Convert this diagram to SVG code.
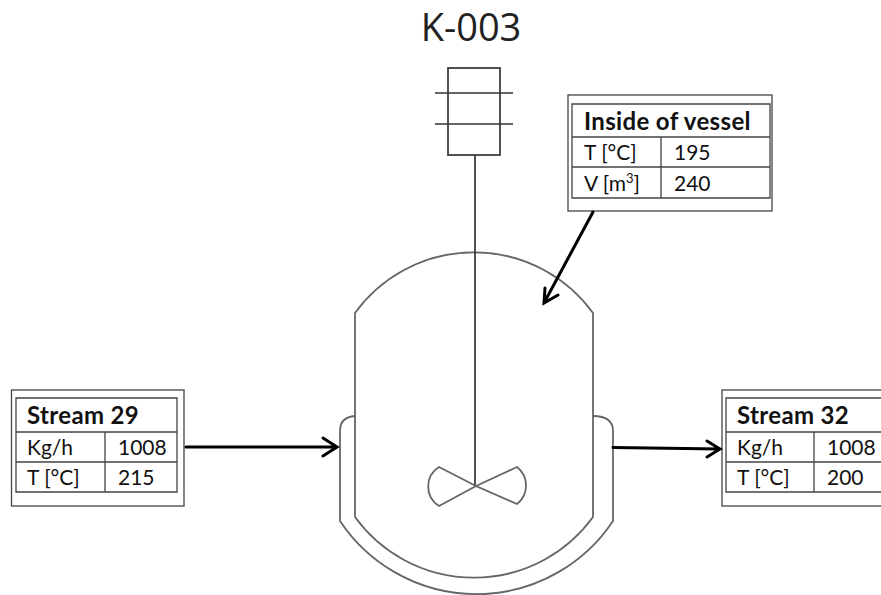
<svg xmlns="http://www.w3.org/2000/svg" width="881" height="595" viewBox="0 0 881 595">
<style>
.v{fill:none;stroke:#666;stroke-width:1.8}
.m{fill:none;stroke:#333;stroke-width:1.7}
.box{fill:#fff;stroke:#444;stroke-width:1.3}
.g{fill:none;stroke:#444;stroke-width:1.3}
.a{fill:none;stroke:#000;stroke-width:3;stroke-linecap:round;stroke-linejoin:miter}
text{font-family:"Lato","Open Sans","Liberation Sans",sans-serif;fill:#111;font-size:21px}
.b{font-weight:700;font-size:24px;letter-spacing:.35px}
.t{font-family:"Open Sans","Liberation Sans",sans-serif;font-size:38px;fill:#222}
</style>
<rect width="881" height="595" fill="#fff"/>
<g id="title"><text class="t" x="471" y="41" text-anchor="middle">K-003</text></g>
<g id="vessel">
<path class="v" d="M355 517V313A147 147 0 0 1 593 313V517A147 147 0 0 1 355 517Z"/>
<path class="v" d="M355 416Q340 417 340 431V521A164 164 0 0 0 613 521V431Q613 416 593 416"/>
</g>
<g id="agitator">
<rect class="m" x="448" y="68" width="52" height="87"/>
<path class="m" d="M435 93H513M435 124H513M475 155V486"/>
<path class="v" d="M476 486L439 467A23 23 0 0 0 439 506ZM476 486L517 467A23.500 23.500 0 0 1 517 504Z"/>
</g>
<g id="inside-of-vessel">
<rect class="box" x="568" y="95" width="204" height="116"/>
<path class="g" d="M572 104H770V198H572ZM572 137H770M572 167H770M661 137V198"/>
<text class="b" x="584" y="130">Inside of vessel</text>
<text x="584" y="160">T [°C]</text><text x="674" y="160">195</text>
<text x="584" y="191">V [m<tspan font-size="13" dy="-8">3</tspan><tspan dy="8">]</tspan></text><text x="674" y="191">240</text>
</g>
<g id="stream-29">
<rect class="box" x="11.5" y="390" width="172.500" height="116"/>
<path class="g" d="M16 398H177V492H16ZM16 432H177M16 462H177M105 432V492"/>
<text class="b" x="27" y="424">Stream 29</text>
<text x="27" y="455">Kg/h</text><text x="118" y="455">1008</text>
<text x="27" y="485">T [°C]</text><text x="118" y="485">215</text>
</g>
<g id="stream-32">
<rect class="box" x="722" y="390" width="170" height="116"/>
<path class="g" d="M726 398H890V492H726ZM726 432H890M726 462H890M814 432V492"/>
<text class="b" x="737" y="424">Stream 32</text>
<text x="737" y="455">Kg/h</text><text x="827" y="455">1008</text>
<text x="737" y="485">T [°C]</text><text x="827" y="485">200</text>
</g>
<g id="connectors">
<path class="a" d="M186 447H337M323 438L337 447L323 456"/>
<path class="a" d="M613 447.500L720 449M707 441L720 449L707 457"/>
<path class="a" d="M593 212L544 303M545 288L544 303L558 295"/>
</g>
</svg>
